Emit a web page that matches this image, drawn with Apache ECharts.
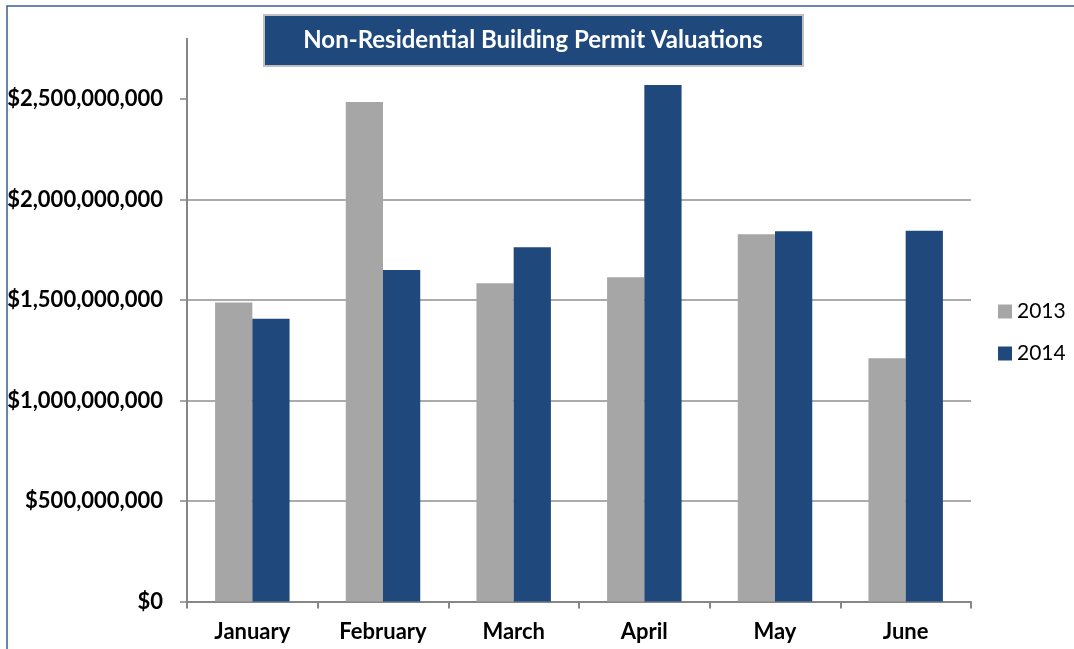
<!DOCTYPE html>
<html>
<head>
<meta charset="utf-8">
<script src="https://cdn.jsdelivr.net/npm/echarts@6/dist/echarts.min.js"></script>
<style>
  html, body { margin: 0; padding: 0; background: #fff; }
  #permit-chart { width: 1074px; height: 649px; }
</style>
</head>
<body>
<div id="permit-chart"></div>
<script>
var months = ['January', 'February', 'March', 'April', 'May', 'June'];
var values2013 = [1487000000, 2485000000, 1583000000, 1613000000, 1827000000, 1210000000];
var values2014 = [1407000000, 1649000000, 1762000000, 2570000000, 1842000000, 1845000000];
var yTicks = [0, 500000000, 1000000000, 1500000000, 2000000000, 2500000000];

var myChart = echarts.init(document.getElementById('permit-chart'));

var axisGray = '#868686';

var option = {
  backgroundColor: '#fff',
  animation: false,
  textStyle: { fontFamily: 'Lato' },
  graphic: [
    // outer chart border (runs off the right/bottom edge)
    {
      type: 'rect',
      shape: { x: 7, y: 6, width: 1200, height: 800 },
      style: { fill: 'none', stroke: '#3b5f8f', lineWidth: 1.5 },
      silent: true
    },
    // title box
    {
      type: 'rect',
      shape: { x: 264, y: 15, width: 539, height: 51 },
      style: { fill: '#1F497D', stroke: '#c0c0c0', lineWidth: 2 },
      z: 0,
      silent: true
    }
  ],
  title: {
    text: 'Non-Residential Building Permit Valuations',
    left: 533,
    top: 26,
    textAlign: 'center',
    padding: 0,
    z: 10,
    textStyle: {
      color: '#fff',
      fontFamily: 'Lato',
      fontWeight: 'bold',
      fontSize: 24,
      lineHeight: 28
    }
  },
  legend: {
    orient: 'vertical',
    left: 993,
    top: 296,
    icon: 'rect',
    itemWidth: 14,
    itemHeight: 14,
    itemGap: 21,
    textStyle: { color: '#000', fontSize: 21, lineHeight: 21, fontFamily: 'Lato' },
    data: ['2013', '2014']
  },
  grid: {
    left: 187,
    right: 103,
    top: 38.7,
    bottom: 47.5,
    containLabel: false
  },
  xAxis: {
    type: 'category',
    data: months,
    axisLine: { lineStyle: { color: axisGray, width: 2 } },
    axisTick: { show: true, alignWithLabel: false, length: 7, lineStyle: { color: axisGray, width: 2 } },
    axisLabel: { color: '#000', fontWeight: 'bold', fontSize: 22, fontFamily: 'Lato', margin: 19 }
  },
  yAxis: {
    type: 'value',
    min: 0,
    max: 2800000000,
    interval: 500000000,
    axisLine: { show: true, lineStyle: { color: axisGray, width: 2 } },
    axisTick: { show: true, length: 7, customValues: yTicks, lineStyle: { color: axisGray, width: 1.5 } },
    splitLine: { show: true, showMaxLine: false, lineStyle: { color: '#8f8f8f', width: 1.5 } },
    axisLabel: {
      customValues: yTicks,
      color: '#000',
      fontWeight: 'bold',
      fontSize: 22,
      fontFamily: 'Lato',
      margin: 24,
      formatter: function (v) {
        return '$' + v.toLocaleString('en-US');
      }
    }
  },
  series: [
    {
      name: '2013',
      type: 'bar',
      data: values2013,
      barGap: '0%',
      barCategoryGap: '43%',
      itemStyle: { color: '#A6A6A6' }
    },
    {
      name: '2014',
      type: 'bar',
      data: values2014,
      itemStyle: { color: '#1F497D' }
    }
  ]
};
myChart.setOption(option);

window.addEventListener('resize', function () {
  myChart.resize();
});
</script>
</body>
</html>
